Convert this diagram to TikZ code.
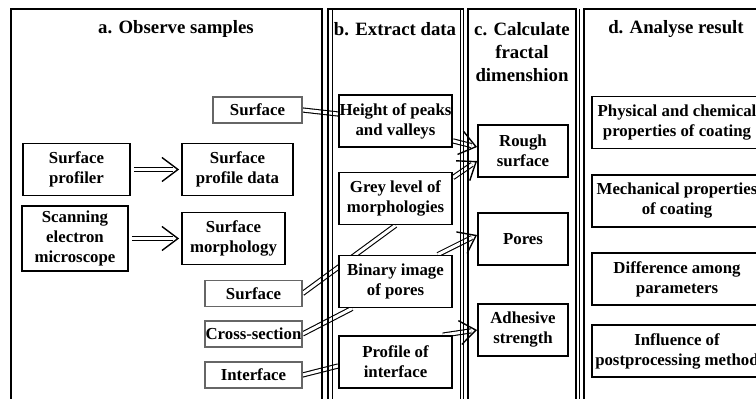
\documentclass[tikz,border=0pt]{standalone}
\usepackage{fontspec}
\setmainfont{Liberation Serif}
\usetikzlibrary{arrows.meta,backgrounds,decorations.markings}

\begin{document}
\begin{tikzpicture}[x=0.5pt,y=-0.5pt,line join=miter,
  every node/.style={font=\bfseries\fontsize{8.4}{10}\selectfont,align=center,inner sep=0pt},
  title/.style={font=\bfseries\fontsize{9.4}{11.5}\selectfont},
  bbox/.style={draw,line width=0.9pt,fill=white,minimum width=56.5pt,minimum height=26pt},
  src/.style={draw=black!60,line width=0.6pt,fill=white,minimum width=48.5pt,minimum height=13pt},
  panel/.style={line width=0.9pt},
  link/.style={double,double distance=1.5pt,line width=0.55pt},
  flow/.style={link,shorten >=3pt,postaction={decorate,decoration={markings,
    mark=at position 1 with {\arrow[line width=0.7pt]{Straight Barb[length=8pt,width=12pt]}}}}}]
\useasboundingbox (0,0) rectangle (756,399);
\clip (0,0) rectangle (756,399);

% The four stages, open at the bottom.
\draw[panel] (11,420) |- (322,9) -- (322,420);
\draw[panel] (328,420) |- (463.5,9) -- (463.5,420);
\draw[thin] (332,9) -- (332,420) (460.5,9) -- (460.5,420);
\draw[panel] (468,420) |- (576,9) -- (576,420);
\draw[panel] (584,420) |- (780,9);
\draw[thin] (579.5,9) -- (579.5,420);

\node[title] (ta) at (176,29) {a. Observe samples};
\node[title] (tb) at (395,29) {b. Extract data};
\node[title] (tc) at (522,52) {c. Calculate\\fractal\\dimenshion};
\node[title] (td) at (676,29) {d. Analyse result};

% a. Observe samples
\node[bbox,minimum width=53.5pt] (profiler) at (76.5,169.5) {Surface\\profiler};
\node[bbox,minimum width=55.5pt] (profdata) at (237.5,169.5) {Surface\\profile data};
\node[bbox,minimum width=53pt,minimum height=32.5pt] (sem) at (75,238.5) {Scanning\\electron\\microscope};
\node[bbox,minimum width=51.5pt] (morph) at (233.5,238.5) {Surface\\morphology};
\node[src,minimum width=44.5pt] (surfa) at (257.5,110) {Surface};
\node[src] (surfb) at (253.5,293.5) {Surface};
\node[src] (cross) at (253.5,334) {Cross-section};
\node[src] (iface) at (253.5,375) {Interface};

% b. Extract data
\node[bbox] (height)  at (395.5,121)   {Height of peaks\\and valleys};
\node[bbox] (grey)    at (395.5,198.5) {Grey level of\\morphologies};
\node[bbox] (binary)  at (395.5,281.5) {Binary image\\of pores};
\node[bbox] (profile) at (395.5,362)   {Profile of\\interface};

% c. Calculate fractal dimension
\node[bbox,minimum width=45pt] (rough)    at (523,151) {Rough\\surface};
\node[bbox,minimum width=45pt] (pores)    at (523,239) {Pores};
\node[bbox,minimum width=45pt] (adhesive) at (523,330) {Adhesive\\strength};

% d. Analyse result
\node[bbox,minimum width=85pt] (phys) at (677,122.5) {Physical and chemical\\properties of coating};
\node[bbox,minimum width=85pt] (mech) at (677,201)   {Mechanical properties\\of coating};
\node[bbox,minimum width=85pt] (diff) at (677,279)   {Difference among\\parameters};
\node[bbox,minimum width=85pt] (infl) at (677,351)   {Influence of\\postprocessing method};

% Connectors run behind the boxes.
\begin{pgfonlayer}{background}
\draw[flow] ([xshift=1.5pt]profiler.east) -- ([xshift=-1pt]profdata.west);
\draw[flow] ([xshift=1.5pt]sem.east) -- ([xshift=-1pt]morph.west);

\draw[link] (surfa.east) -- ([yshift=3.5pt]height.west);
\draw[link] (surfb.east) -- (grey.south);
\draw[link] (cross.east) -- ([xshift=7pt]binary.south west);
\draw[link] (iface.east) -- ([yshift=-2pt]profile.west);

\draw[flow] ([yshift=3.5pt]height.south east) -- ([yshift=2pt]rough.west);
\draw[flow] ([yshift=-3pt]grey.north east) -- ([yshift=-5pt]rough.west);
\draw[flow] ([xshift=-7.5pt]binary.north east) -- ([yshift=2pt]pores.west);
\draw[flow] ([xshift=-5pt]profile.north east) -- (adhesive.west);
\end{pgfonlayer}
\end{tikzpicture}
\end{document}
